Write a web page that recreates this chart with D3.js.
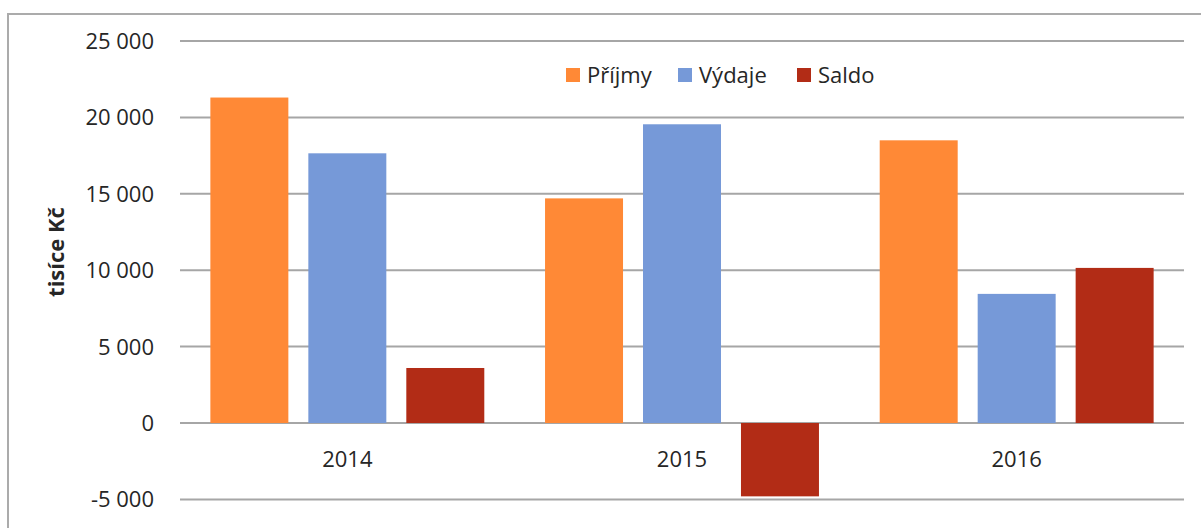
<!DOCTYPE html>
<html>
<head>
<meta charset="utf-8">
<script src="https://cdn.jsdelivr.net/npm/d3@7"></script>
<style>
  body { margin: 0; background: #fff; }
  svg text { font-family: "Open Sans", sans-serif; fill: #262626; }
</style>
</head>
<body>
<script>

// Chart data
var years = ["2014", "2015", "2016"];
var series = ["Příjmy", "Výdaje", "Saldo"];
var prijmy = [21300, 14700, 18500];
var vydaje = [17650, 19550, 8450];
var saldo = [3600, -4800, 10150];
var yTicks = [-5000, 0, 5000, 10000, 15000, 20000, 25000];
var colors = ["#ff8936", "#7699d8", "#b22c16"];

drawChart();

function drawChart(){

  // Width and height
  var w = 1201;
  var h = 528;

  var svg = d3.select("body")
              .append("svg")
              .attr("width", w)
              .attr("height", h);

  // Outer chart border (only left and top visible)
  svg.append("rect")
     .attr("x", 8)
     .attr("y", 14)
     .attr("width", w + 20)
     .attr("height", h + 20)
     .attr("fill", "none")
     .attr("stroke", "#ababab")
     .attr("stroke-width", 2);

  var margin = {top: 41, left: 180, right: 17};
  var plotBottom = 499.4;

  var yScale = d3.scaleLinear()
                 .domain([-5000, 25000])
                 .range([plotBottom, margin.top]);

  var x0 = d3.scaleBand()
             .domain(years)
             .range([margin.left, w - margin.right]);

  var x1 = d3.scaleBand()
             .domain(series)
             .range([0, x0.bandwidth()])
             .paddingInner(0.204)
             .paddingOuter(0.31);

  // Gridlines
  svg.append("g")
     .selectAll("line")
     .data(yTicks)
     .enter()
     .append("line")
     .attr("x1", margin.left)
     .attr("x2", w - margin.right)
     .attr("y1", d => yScale(d))
     .attr("y2", d => yScale(d))
     .attr("stroke", "#a6a6a6")
     .attr("stroke-width", 2);

  // Y tick labels
  var fmt = d3.formatLocale({decimal: ",", thousands: " ", grouping: [3], currency: ["", " Kč"], minus: "-"}).format(",.0f");

  svg.append("g")
     .selectAll("text")
     .data(yTicks)
     .enter()
     .append("text")
     .attr("x", 154)
     .attr("y", d => yScale(d))
     .attr("dy", "0.36em")
     .attr("text-anchor", "end")
     .style("font-size", "22px")
     .text(d => fmt(d));

  // Table of values per year
  var rows = years.map((y, i) => ({year: y, values: [prijmy[i], vydaje[i], saldo[i]]}));

  var groups = svg.append("g")
                  .selectAll("g")
                  .data(rows)
                  .enter()
                  .append("g")
                  .attr("transform", d => `translate(${x0(d.year)}, 0)`);

  groups.selectAll("rect")
        .data(d => d.values.map((v, j) => ({name: series[j], value: v, idx: j})))
        .enter()
        .append("rect")
        .attr("x", d => x1(d.name))
        .attr("width", x1.bandwidth())
        .attr("y", d => yScale(Math.max(0, d.value)))
        .attr("height", d => Math.abs(yScale(d.value) - yScale(0)))
        .attr("fill", d => colors[d.idx]);

  // X labels
  svg.append("g")
     .selectAll("text")
     .data(years)
     .enter()
     .append("text")
     .attr("x", d => x0(d) + x0.bandwidth() / 2)
     .attr("y", 467)
     .attr("text-anchor", "middle")
     .style("font-size", "22px")
     .text(d => d);

  // Y axis title
  svg.append("text")
     .attr("transform", "translate(64, 252) rotate(-90)")
     .attr("text-anchor", "middle")
     .style("font-size", "22px")
     .style("font-weight", "bold")
     .text("tisíce Kč");

  // Legend
  var legendX = [566, 678, 797];
  var legend = svg.append("g")
                  .selectAll("g")
                  .data(series)
                  .enter()
                  .append("g")
                  .attr("transform", (d, i) => `translate(${legendX[i]}, 75)`);

  legend.append("rect")
        .attr("x", 0)
        .attr("y", -7)
        .attr("width", 14)
        .attr("height", 14)
        .attr("fill", (d, i) => colors[i]);

  legend.append("text")
        .attr("x", 21)
        .attr("y", 0)
        .attr("dy", "0.36em")
        .style("font-size", "22px")
        .text(d => d);
}
</script>
</body>
</html>
